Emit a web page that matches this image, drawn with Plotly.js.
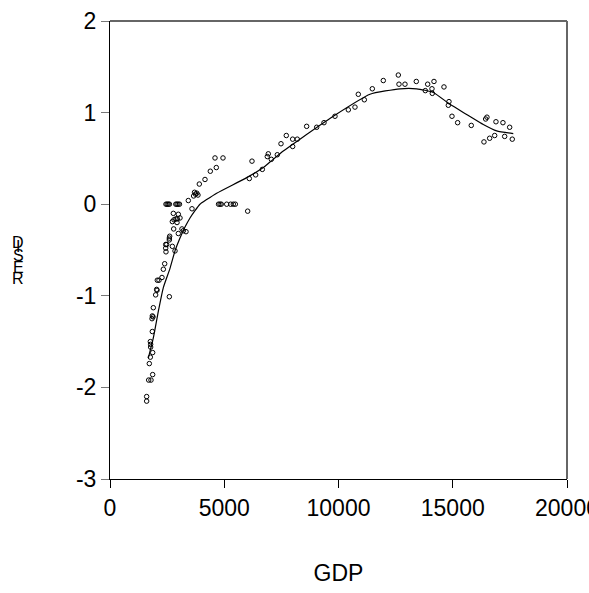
<!DOCTYPE html>
<html>
<head>
<meta charset="utf-8">
<script src="https://cdn.plot.ly/plotly-3.0.1.min.js"></script>
<style>html,body{margin:0;padding:0;background:#fff;}#chart{width:589px;height:593px;}</style>
</head>
<body>
<div id="chart"></div>
<script>
// Scatter: GDP vs RESID
var gdp = [1604,1604,1692,1794,1867,1721,1765,1867,1765,1779,1779,1852,1852,1882,1838,1896,1998,2597,2042,2057,
  2275,2144,2071,2334,2393,2437,2481,2437,2450,2728,2845,2612,2597,2597,2787,2990,3150,3208,3326,2728,
  2800,2888,2947,2932,3063,2771,2990,2450,2500,2550,2600,2880,2930,2980,3040,3588,3427,3660,3740,3800,
  3850,3700,3909,4157,4390,4652,4595,4945,4750,4814,4870,5107,5282,5398,5485,6025,6214,6097,6375,6666,
  6884,6928,7060,7322,7483,7716,7994,8196,7994,8606,9045,9365,9846,10430,10721,10867,11130,11480,11961,12618,
  12647,12909,13405,13902,13799,14091,14105,14178,14616,14835,14806,14966,15214,15811,16440,16497,16891,17197,17491,16366,
  16615,16834,17272,17605];
var resid = [-2.10,-2.15,-1.92,-1.92,-1.86,-1.74,-1.67,-1.62,-1.50,-1.53,-1.56,-1.39,-1.22,-1.23,-1.25,-1.13,-0.99,-1.01,-0.93,-0.94,
  -0.80,-0.83,-0.83,-0.71,-0.65,-0.44,-0.44,-0.48,-0.52,-0.46,-0.51,-0.35,-0.37,-0.39,-0.27,-0.32,-0.27,-0.29,-0.30,-0.19,
  -0.17,-0.16,-0.16,-0.20,-0.15,-0.10,-0.11,0,0,0,0,0,0,0,0,-0.05,0.04,0.09,0.11,0.12,
  0.10,0.13,0.22,0.27,0.36,0.40,0.505,0.505,0,0,0,0,0,0,0,-0.076,0.47,0.28,0.32,0.38,
  0.52,0.55,0.49,0.54,0.66,0.75,0.71,0.71,0.63,0.85,0.84,0.89,0.96,1.03,1.06,1.20,1.14,1.26,1.35,1.41,
  1.31,1.31,1.34,1.31,1.24,1.26,1.21,1.34,1.28,1.12,1.08,0.96,0.89,0.86,0.93,0.95,0.90,0.89,0.84,0.68,
  0.72,0.75,0.74,0.71];

// Fitted (smoothed) curve
var fitX = [1677,1896,2115,2334,2626,2845,3063,3282,3501,3720,3938,4230,4668,5982,6710,7001,7584,8313,9772,11378,
  12690,13420,14148,14878,15608,16337,16921,17649];
var fitY = [-1.68,-1.46,-1.17,-0.91,-0.70,-0.51,-0.37,-0.25,-0.15,-0.07,0.00,0.05,0.12,0.29,0.40,0.46,0.58,0.71,0.96,1.20,
  1.26,1.26,1.22,1.09,0.98,0.87,0.80,0.77];

var xTickVals = [0,5000,10000,15000,20000];
var xTickText = ["0","5000","10000","15000","20000"];
var yTickVals = [-3,-2,-1,0,1,2];
var yTickText = ["-3","-2","-1","0","1","2"];
var yTitleLetters = ["R","E","S","I","D"];

var FONT = "Liberation Sans, Arial, sans-serif";

var traces = [
  {x: gdp, y: resid, type: "scatter", mode: "markers",
   marker: {symbol: "circle-open", size: 4.5, color: "#000", line: {width: 1, color: "#000"}},
   cliponaxis: false, hoverinfo: "skip"},
  {x: fitX, y: fitY, type: "scatter", mode: "lines",
   line: {color: "#000", width: 1.2, shape: "spline", smoothing: 0.5}, hoverinfo: "skip"}
];

// y-title letters stacked upright
var letterY = [0.437, 0.462, 0.487, 0.507, 0.517];
var annotations = yTitleLetters.map(function (ch, i) {
  return {text: ch, xref: "paper", yref: "paper", x: -0.201, y: letterY[i],
    showarrow: false, xanchor: "center", yanchor: "middle",
    font: {family: FONT, size: 16, color: "#000"}};
});

var layout = {
  width: 589, height: 593,
  margin: {l: 110, r: 22, t: 21, b: 114, pad: 0},
  paper_bgcolor: "#fff", plot_bgcolor: "#fff",
  showlegend: false,
  font: {family: FONT, color: "#000"},
  xaxis: {range: [0, 20000], tickmode: "array", tickvals: xTickVals, ticktext: xTickText,
    ticks: "outside", ticklen: 8, tickcolor: "#000", tickwidth: 1,
    showline: true, linecolor: "#000", linewidth: 1, showgrid: false, zeroline: false,
    ticklabeloverflow: "allow",
    tickfont: {family: FONT, size: 23, color: "#000"},
    title: {text: "GDP", font: {family: FONT, size: 23, color: "#000"}, standoff: 45},
    automargin: false},
  yaxis: {range: [-3, 2], tickmode: "array", tickvals: yTickVals, ticktext: yTickText,
    ticks: "outside", ticklen: 8, tickcolor: "#777", tickwidth: 1,
    showline: true, linecolor: "#000", linewidth: 1, showgrid: false, zeroline: false,
    tickfont: {family: FONT, size: 23, color: "#000"},
    automargin: false},
  shapes: [
    {type: "line", xref: "paper", yref: "paper", x0: 0, x1: 1, y0: 1, y1: 1, line: {color: "#666", width: 2}},
    {type: "line", xref: "paper", yref: "paper", x0: 1, x1: 1, y0: 0, y1: 1, line: {color: "#666", width: 2}}
  ],
  annotations: annotations
};

Plotly.newPlot("chart", traces, layout, {staticPlot: true, displayModeBar: false});
</script>
</body>
</html>
